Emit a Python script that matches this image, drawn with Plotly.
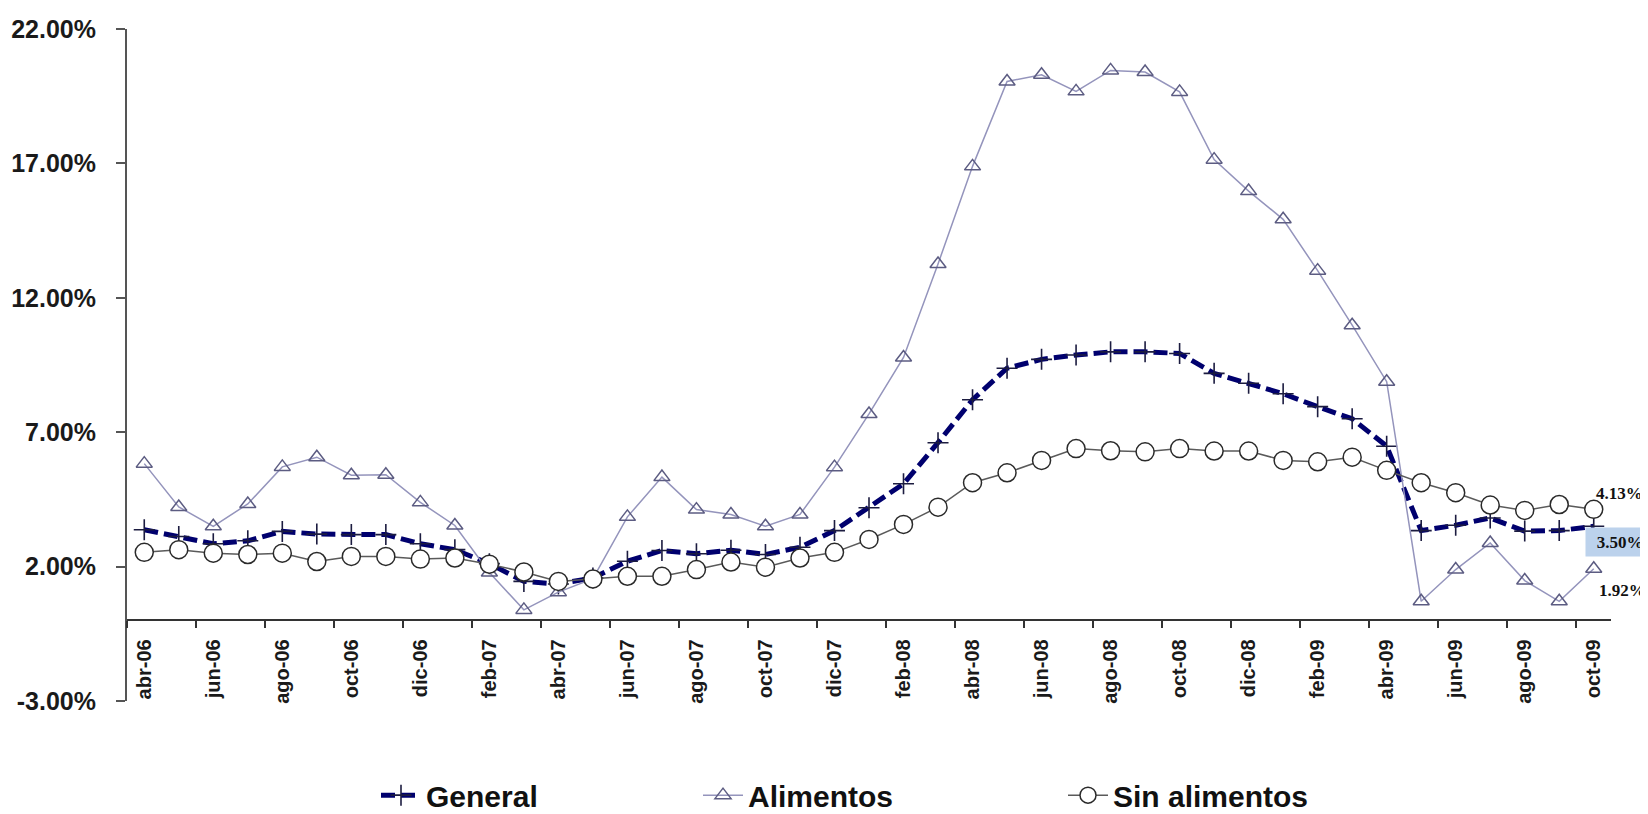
import plotly.graph_objects as go

months = [
    "abr-06", "may-06", "jun-06", "jul-06", "ago-06", "sep-06", "oct-06", "nov-06", "dic-06",
    "ene-07", "feb-07", "mar-07", "abr-07", "may-07", "jun-07", "jul-07", "ago-07", "sep-07",
    "oct-07", "nov-07", "dic-07",
    "ene-08", "feb-08", "mar-08", "abr-08", "may-08", "jun-08", "jul-08", "ago-08", "sep-08",
    "oct-08", "nov-08", "dic-08",
    "ene-09", "feb-09", "mar-09", "abr-09", "may-09", "jun-09", "jul-09", "ago-09", "sep-09",
    "oct-09",
]

general = [
    3.37, 3.12, 2.85, 2.96, 3.31, 3.21, 3.19, 3.19, 2.85,
    2.63, 2.11, 1.45, 1.35, 1.58, 2.20, 2.60, 2.48, 2.61, 2.45, 2.72, 3.34,
    4.19, 5.08, 6.61, 8.21, 9.38, 9.71, 9.87, 9.99, 9.99, 9.93, 9.19, 8.82,
    8.43, 7.95, 7.50, 6.48, 3.34, 3.54, 3.81, 3.32, 3.34, 3.50,
]

alimentos = [
    5.83, 4.22, 3.50, 4.33, 5.71, 6.07, 5.40, 5.42, 4.39,
    3.53, 1.78, 0.39, 1.05, 1.55, 3.85, 5.33, 4.12, 3.94, 3.50, 3.94, 5.70,
    7.68, 9.78, 13.26, 16.89, 20.05, 20.30, 19.68, 20.46, 20.40, 19.66, 17.14, 15.97,
    14.92, 13.01, 10.98, 8.88, 0.71, 1.89, 2.88, 1.48, 0.71, 1.92,
]

sin_alimentos = [
    2.53, 2.63, 2.50, 2.45, 2.50, 2.19, 2.38, 2.38, 2.28,
    2.32, 2.09, 1.80, 1.45, 1.54, 1.64, 1.64, 1.89, 2.17, 1.98, 2.32, 2.53,
    3.01, 3.57, 4.21, 5.12, 5.49, 5.95, 6.39, 6.31, 6.27, 6.39, 6.30, 6.30,
    5.95, 5.90, 6.07, 5.58, 5.12, 4.75, 4.29, 4.09, 4.31, 4.13,
]

y_ticks = [-3, 2, 7, 12, 17, 22]
y_tick_text = ["%.2f%%" % v for v in y_ticks]

end_labels = ["4.13%", "3.50%", "1.92%"]

FONT = "Liberation Sans, Arial, sans-serif"
SERIF = "Liberation Serif, Times New Roman, serif"

fig = go.Figure()

fig.add_trace(go.Scatter(
    x=months, y=general, name="General", mode="lines+markers", legend="legend",
    line=dict(color="#00006e", width=5, dash="14px,6px"),
    marker=dict(symbol="cross-thin", size=15, line=dict(color="#1c1c40", width=1.6)),
))
fig.add_trace(go.Scatter(
    x=months, y=alimentos, name="Alimentos", mode="lines+markers", legend="legend2",
    line=dict(color="#9494bc", width=1.5),
    marker=dict(symbol="triangle-up-open", size=14, color="#5c5c82", line=dict(width=1.5)),
))
fig.add_trace(go.Scatter(
    x=months, y=sin_alimentos, name="Sin alimentos", mode="lines+markers", legend="legend3",
    line=dict(color="#5a5a5a", width=1.5),
    marker=dict(symbol="circle", size=18, color="white", line=dict(color="#2a2a2a", width=1.5)),
))

last = months[-1]
fig.add_annotation(x=last, y=sin_alimentos[-1], text=end_labels[0], showarrow=False,
                   xanchor="left", xshift=0, yshift=16,
                   font=dict(family=SERIF, size=17, color="#111", weight="bold"))
fig.add_annotation(x=last, y=general[-1], text=end_labels[1], showarrow=False,
                   xanchor="left", xshift=-9, yshift=-16, bgcolor="#bcd2ec",
                   width=66, height=26, borderpad=1,
                   font=dict(family=SERIF, size=17, color="#111", weight="bold"))
fig.add_annotation(x=last, y=alimentos[-1], text=end_labels[2], showarrow=False,
                   xanchor="left", xshift=3, yshift=-22,
                   font=dict(family=SERIF, size=17, color="#111", weight="bold"))

legend_common = dict(orientation="h", xref="container", yref="container", y=0.033,
                     xanchor="left", yanchor="middle", itemwidth=40,
                     bgcolor="rgba(0,0,0,0)",
                     font=dict(family=FONT, size=30, color="#111", weight="bold"))

fig.update_layout(
    width=1648, height=814,
    margin=dict(l=119, r=45, t=21, b=121, autoexpand=False),
    paper_bgcolor="white", plot_bgcolor="white",
    font=dict(family=FONT, size=20, color="#1a1a1a", weight="bold"),
    showlegend=True,
    legend=dict(x=368 / 1648, **legend_common),
    legend2=dict(x=690 / 1648, **legend_common),
    legend3=dict(x=1055 / 1648, **legend_common),
    xaxis=dict(
        type="category", categoryorder="array", categoryarray=months,
        range=[-0.5, len(months) - 0.5],
        anchor="free", position=3 / 25, automargin=False,
        showline=True, linecolor="#333", linewidth=2,
        ticks="outside", ticklen=7, tickwidth=2, tickcolor="#333",
        tickson="boundaries", dtick=2, tick0=0,
        tickangle=-90, ticklabelstandoff=10,
        tickfont=dict(family=FONT, size=20, color="#1a1a1a", weight="bold"),
        showgrid=False, zeroline=False,
    ),
    yaxis=dict(
        range=[-3, 22], domain=[0, 1], automargin=False,
        tickmode="array", tickvals=y_ticks, ticktext=y_tick_text,
        showline=True, linecolor="#555", linewidth=2,
        ticks="outside", ticklen=9, tickwidth=2, tickcolor="#555",
        ticklabelstandoff=15,
        tickfont=dict(family=FONT, size=25, color="#1a1a1a", weight="bold"),
        showgrid=False, zeroline=False,
    ),
)

fig.write_html("out.html")
